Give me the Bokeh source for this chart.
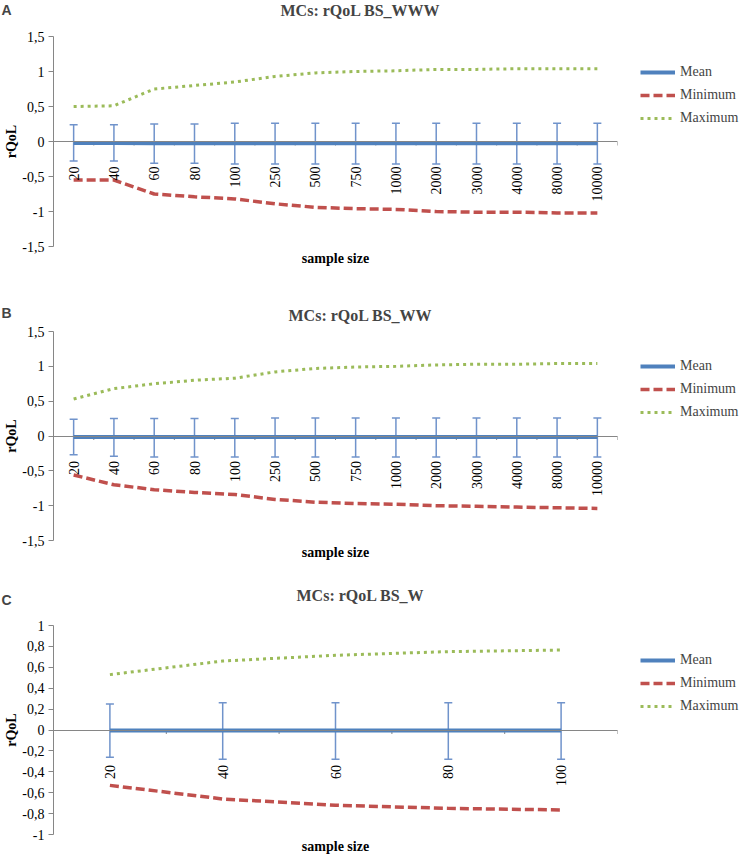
import math
from bokeh.plotting import figure
from bokeh.models import (ColumnDataSource, FactorRange, Range1d, FixedTicker,
                          Whisker, TeeHead, Legend, LegendItem, Label, Title)
from bokeh.transform import dodge
from bokeh.layouts import column
from bokeh.embed import file_html
from bokeh.resources import INLINE

# ---------------- data ----------------
cats_A = ["20", "40", "60", "80", "100", "250", "500", "750", "1000",
          "2000", "3000", "4000", "8000", "10000"]
mean_A = [-0.02, -0.02, -0.025, -0.025, -0.025, -0.025, -0.025, -0.025,
          -0.025, -0.025, -0.025, -0.025, -0.025, -0.025]
upper_A = [0.24, 0.24, 0.25, 0.25, 0.26, 0.26, 0.26, 0.26, 0.26, 0.26,
           0.26, 0.26, 0.26, 0.26]
lower_A = [-0.28, -0.28, -0.31, -0.31, -0.32, -0.32, -0.32, -0.32, -0.32,
           -0.32, -0.32, -0.32, -0.32, -0.32]
min_A = [-0.55, -0.55, -0.75, -0.79, -0.82, -0.89, -0.94, -0.96, -0.97,
         -1.00, -1.01, -1.01, -1.02, -1.02]
max_A = [0.50, 0.51, 0.75, 0.80, 0.85, 0.93, 0.98, 1.00, 1.01, 1.03,
         1.03, 1.04, 1.04, 1.04]

cats_B = ["20", "40", "60", "80", "100", "250", "500", "750", "1000",
          "2000", "3000", "4000", "8000", "10000"]
mean_B = [-0.015, -0.015, -0.015, -0.015, -0.015, -0.015, -0.015, -0.015,
          -0.015, -0.015, -0.015, -0.015, -0.015, -0.015]
upper_B = [0.24, 0.25, 0.25, 0.25, 0.25, 0.26, 0.26, 0.26, 0.26, 0.26,
           0.26, 0.26, 0.26, 0.26]
lower_B = [-0.27, -0.29, -0.30, -0.30, -0.30, -0.30, -0.30, -0.30, -0.30,
           -0.30, -0.30, -0.30, -0.30, -0.30]
min_B = [-0.56, -0.70, -0.77, -0.81, -0.84, -0.91, -0.95, -0.97, -0.98,
         -1.00, -1.01, -1.02, -1.03, -1.04]
max_B = [0.53, 0.68, 0.75, 0.80, 0.83, 0.92, 0.97, 0.99, 1.00, 1.02,
         1.03, 1.03, 1.04, 1.04]

cats_C = ["20", "40", "60", "80", "100"]
mean_C = [-0.005, -0.005, -0.005, -0.005, -0.005]
upper_C = [0.25, 0.26, 0.26, 0.26, 0.26]
lower_C = [-0.26, -0.28, -0.28, -0.28, -0.28]
min_C = [-0.53, -0.66, -0.72, -0.75, -0.765]
max_C = [0.53, 0.66, 0.715, 0.75, 0.765]

yticks_AB = [-1.5, -1.0, -0.5, 0.0, 0.5, 1.0, 1.5]
ylabels_AB = ["-1,5", "-1", "-0,5", "0", "0,5", "1", "1,5"]
yticks_C = [-1.0, -0.8, -0.6, -0.4, -0.2, 0.0, 0.2, 0.4, 0.6, 0.8, 1.0]
ylabels_C = ["-1", "-0,8", "-0,6", "-0,4", "-0,2", "0", "0,2", "0,4",
             "0,6", "0,8", "1"]

series_names = ["Mean", "Minimum", "Maximum"]
titles = ["MCs: rQoL BS_WWW", "MCs: rQoL BS_WW", "MCs: rQoL BS_W"]
letters = ["A", "B", "C"]
y_title = "rQoL"
x_title = "sample size"

# ---------------- style ----------------
BLUE = "#4F81BD"
RED = "#C0504D"
GREEN = "#9BBB59"
EB = "#7093CB"
AXIS = "#868686"
SERIF = "Liberation Serif, Times New Roman, serif"
SANS = "Liberation Sans, Arial, sans-serif"
BL, BR = 53, 123
FRAME_W = 564


def panel(letter, title, cats, mean, upper, lower, vmin, vmax, yticks,
          ylabels, yr, frame_h, btop, bbot, title_dy, letter_dy, std,
          leg_top):
    p = figure(frame_width=FRAME_W, frame_height=frame_h,
               x_range=FactorRange(*cats),
               y_range=Range1d(*yr), output_backend="svg",
               toolbar_location=None, min_border_left=BL,
               min_border_right=BR, min_border_top=btop,
               min_border_bottom=bbot)
    p.outline_line_color = None
    p.xgrid.visible = False
    p.ygrid.visible = False

    src = ColumnDataSource(dict(x=cats, mean=mean, upper=upper, lower=lower,
                                vmin=vmin, vmax=vmax))

    # x axis at zero
    p.xaxis.fixed_location = 0
    p.xaxis.axis_line_color = AXIS
    p.xaxis.major_tick_line_color = None
    p.xaxis.major_tick_out = 0
    p.xaxis.major_tick_in = 0
    p.xaxis.minor_tick_line_color = None
    p.xaxis.major_label_orientation = math.pi / 2
    p.xaxis.major_label_standoff = std
    p.xaxis.major_label_text_font = SERIF
    p.xaxis.major_label_text_font_size = "14px"
    p.xaxis.major_label_text_color = "black"

    # y axis
    p.yaxis.ticker = FixedTicker(ticks=yticks)
    p.yaxis.major_label_overrides = dict(zip(yticks, ylabels))
    p.yaxis.axis_line_color = AXIS
    p.yaxis.major_tick_line_color = AXIS
    p.yaxis.major_tick_out = 5
    p.yaxis.major_tick_in = 0
    p.yaxis.minor_tick_line_color = None
    p.yaxis.major_label_standoff = 4
    p.yaxis.major_label_text_font = SERIF
    p.yaxis.major_label_text_font_size = "14px"
    p.yaxis.major_label_text_color = "black"
    p.yaxis.axis_label = y_title
    p.yaxis.axis_label_text_font = SERIF
    p.yaxis.axis_label_text_font_size = "14px"
    p.yaxis.axis_label_text_font_style = "bold"
    p.yaxis.axis_label_text_color = "black"
    p.yaxis.axis_label_standoff = 0

    # category boundary ticks on x axis
    px_per_unit = frame_h / (yr[1] - yr[0])
    tick_len = 4 / px_per_unit
    xb = dodge("x", 0.5, range=p.x_range)
    p.segment(x0=xb, y0=0, x1=xb, y1=-tick_len, source=src,
              line_color=AXIS, line_width=1)

    # error bars
    wh = Whisker(source=src, base="x", upper="upper", lower="lower",
                 line_color=EB, line_width=1.5,
                 upper_head=TeeHead(size=8, line_color=EB, line_width=1.5),
                 lower_head=TeeHead(size=8, line_color=EB, line_width=1.5))
    p.add_layout(wh)

    r_max = p.line("x", "vmax", source=src, line_color=GREEN, line_width=3,
                   line_dash="3 4")
    r_min = p.line("x", "vmin", source=src, line_color=RED, line_width=3.5,
                   line_dash="9 4")
    r_mean = p.line("x", "mean", source=src, line_color=BLUE, line_width=4)

    leg = Legend(items=[LegendItem(label=series_names[0], renderers=[r_mean]),
                        LegendItem(label=series_names[1], renderers=[r_min]),
                        LegendItem(label=series_names[2], renderers=[r_max])],
                 location=(23, frame_h - leg_top))
    leg.padding = 0
    leg.margin = 0
    leg.border_line_color = None
    leg.background_fill_alpha = 0
    leg.label_text_font = SERIF
    leg.label_text_font_size = "14px"
    leg.glyph_width = 35
    leg.glyph_height = 20
    leg.label_height = 20
    leg.spacing = 3
    leg.label_standoff = 5
    p.add_layout(leg, "right")

    p.add_layout(Title(text=x_title, align="center", standoff=4,
                       text_font=SERIF, text_font_size="14px",
                       text_font_style="bold", text_color="black"), "below")

    p.add_layout(Label(x=307, y=title_dy, x_units="screen", y_units="screen",
                       text=title, text_font=SERIF, text_font_size="16px",
                       text_font_style="bold", text_align="center",
                       text_baseline="middle"), "above")
    p.add_layout(Label(x=-52, y=letter_dy, x_units="screen",
                       y_units="screen", text=letter, text_font=SANS,
                       text_font_size="14px", text_font_style="bold",
                       text_align="left", text_baseline="middle"), "above")
    return p


pA = panel(letters[0], titles[0], cats_A, mean_A, upper_A, lower_A, min_A,
           max_A, yticks_AB, ylabels_AB, (-1.5, 1.5), 210, 36, 42, 26, 10,
           25, 92)
pB = panel(letters[1], titles[1], cats_B, mean_B, upper_B, lower_B, min_B,
           max_B, yticks_AB, ylabels_AB, (-1.5, 1.5), 209, 43, 28, 16, 2,
           25, 91)
pC = panel(letters[2], titles[2], cats_C, mean_C, upper_C, lower_C, min_C,
           max_C, yticks_C, ylabels_C, (-1.0, 1.0), 209, 57, 21, 30, 9,
           35, 91)

layout = column(pA, pB, pC)
open("out.html", "w").write(file_html(layout, INLINE))
